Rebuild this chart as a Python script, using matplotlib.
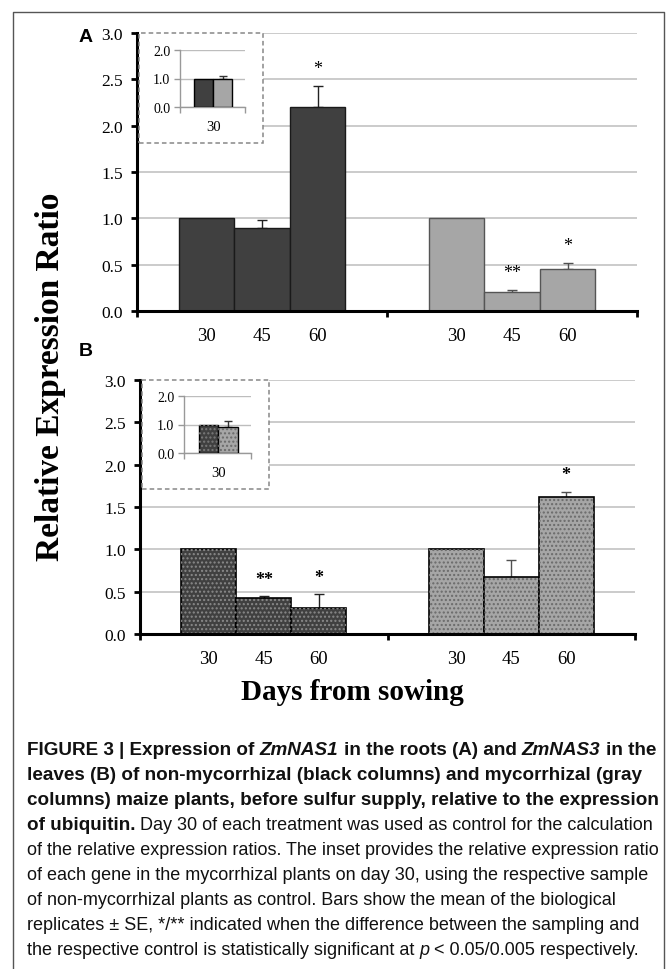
import matplotlib
matplotlib.use("Agg")
import matplotlib.pyplot as plt
from matplotlib import font_manager
from matplotlib.lines import Line2D
from matplotlib.patches import Rectangle
import numpy as np

# ---- data ----
days = ["30", "45", "60"]

# panel A: ZmNAS1, roots
a_nonmyc = [1.0, 0.90, 2.20]
a_nonmyc_err = [0.0, 0.08, 0.23]
a_myc = [1.0, 0.20, 0.45]
a_myc_err = [0.0, 0.03, 0.07]
a_stars_nonmyc = ["", "", "*"]
a_stars_myc = ["", "**", "*"]
a_inset = [1.0, 0.98]
a_inset_err = [0.0, 0.10]

# panel B: ZmNAS3, leaves
b_nonmyc = [1.0, 0.43, 0.31]
b_nonmyc_err = [0.0, 0.02, 0.16]
b_myc = [1.0, 0.67, 1.62]
b_myc_err = [0.0, 0.20, 0.06]
b_stars_nonmyc = ["", "**", "*"]
b_stars_myc = ["", "", "*"]
b_inset = [1.0, 0.90]
b_inset_err = [0.0, 0.22]

y_ticks = [0.0, 0.5, 1.0, 1.5, 2.0, 2.5, 3.0]
inset_ticks = [0.0, 1.0, 2.0]

DARK = "#404040"
LIGHT = "#a6a6a6"
GRID = "#bdbdbd"

W, H = 668, 970
fig = plt.figure(figsize=(W / 100, H / 100), dpi=100)

def box(x0, y0, x1, y1):
    # pixel box (top-left origin) -> figure fraction rect
    return [x0 / W, 1 - y1 / H, (x1 - x0) / W, (y1 - y0) / H]

def fx(x):
    return x / W

def fy(y):
    return 1 - y / H

serif = "Liberation Serif"
names = {f.name for f in font_manager.fontManager.ttflist}
cap_font = "Liberation Sans Narrow" if "Liberation Sans Narrow" in names else "Liberation Sans"

BW = 0.222


def main_panel(rect, nonmyc, nerr, myc, merr, st_n, st_m, dotted, star_bold):
    ax = fig.add_axes(rect)
    ax.set_xlim(0, 2)
    ax.set_ylim(0, 3.0)
    x1 = 0.5 + (np.arange(3) - 1) * BW
    x2 = x1 + 1
    if dotted:
        ax.bar(x1, nonmyc, BW, color=DARK, edgecolor="black", lw=1.2, zorder=3)
        ax.bar(x1, nonmyc, BW, color="none", edgecolor="#8a8a8a", hatch="....", lw=0, zorder=3)
        ax.bar(x2, myc, BW, color=LIGHT, edgecolor="black", lw=1.2, zorder=3)
        ax.bar(x2, myc, BW, color="none", edgecolor="#6a6a6a", hatch="....", lw=0, zorder=3)
    else:
        ax.bar(x1, nonmyc, BW, color=DARK, edgecolor="#1a1a1a", lw=1.0, zorder=3)
        ax.bar(x2, myc, BW, color=LIGHT, edgecolor="#555555", lw=1.0, zorder=3)
    for xs, vals, errs, col in [(x1, nonmyc, nerr, "#222222"), (x2, myc, merr, "#505050")]:
        for x, v, e in zip(xs, vals, errs):
            if e > 0:
                ax.errorbar(x, v, yerr=[[0], [e]], fmt="none", ecolor=col, elinewidth=1.0,
                            capsize=3.5, capthick=1.0, zorder=2)
    wt = "bold" if star_bold else "normal"
    for xs, vals, errs, stars in [(x1, nonmyc, nerr, st_n), (x2, myc, merr, st_m)]:
        for x, v, e, s in zip(xs, vals, errs, stars):
            if s:
                ax.annotate(s, (x, v + e), xytext=(0, 6), textcoords="offset points",
                            ha="center", va="bottom", fontsize=13, family=serif,
                            fontweight=wt, zorder=5)
    ax.set_yticks(y_ticks)
    ax.set_yticklabels([f"{t:.1f}" for t in y_ticks], family=serif, fontsize=12.5)
    ax.set_xticks([0, 1, 2])
    ax.set_xticklabels([])
    ax.tick_params(axis="both", direction="out", length=4, width=2, color="black", pad=6)
    for t in ax.get_yticklines():
        t.set_clip_on(False)
    ax.grid(axis="y", color=GRID, lw=1.1, zorder=0)
    ax.set_axisbelow(True)
    for s in ["top", "right"]:
        ax.spines[s].set_visible(False)
    for s in ["left", "bottom"]:
        ax.spines[s].set_linewidth(2.2)
        ax.spines[s].set_zorder(4)
    # day labels under each bar
    for xs in (x1, x2):
        for x, d in zip(xs, days):
            ax.annotate(d, (x, 0), xytext=(0, -18), textcoords="offset points",
                        ha="center", va="center", fontsize=13.5, family=serif,
                        annotation_clip=False)
    return ax


def inset(frame, rect, vals, errs, dotted):
    fig.add_artist(Rectangle((fx(frame[0]), fy(frame[3])), (frame[2] - frame[0]) / W,
                             (frame[3] - frame[1]) / H, transform=fig.transFigure,
                             facecolor="white", edgecolor="#888888", lw=1.1, ls=(0, (3, 2)),
                             zorder=10))
    ax = fig.add_axes(rect)
    ax.set_zorder(11)
    ax.patch.set_alpha(0)
    ax.set_xlim(0, 1)
    ax.set_ylim(0, 2.0)
    bw = 0.29
    xs = [0.51 - bw / 2, 0.51 + bw / 2]
    cols = [DARK, LIGHT]
    for x, v, c in zip(xs, vals, cols):
        ax.bar(x, v, bw, color=c, edgecolor="black", lw=1.0, zorder=3)
        if dotted:
            ax.bar(x, v, bw, color="none", edgecolor="#7a7a7a" if c == DARK else "#6a6a6a",
                   hatch="....", lw=0, zorder=3)
    for x, v, e in zip(xs, vals, errs):
        if e > 0:
            ax.errorbar(x, v, yerr=[[0], [e]], fmt="none", ecolor="#333333",
                        elinewidth=1.0, capsize=3, capthick=1.0, zorder=2)
    ax.set_yticks(inset_ticks)
    ax.set_yticklabels([f"{t:.1f}" for t in inset_ticks], family=serif, fontsize=10)
    ax.set_xticks([0, 1])
    ax.set_xticklabels([])
    ax.tick_params(axis="both", direction="out", length=4, width=1, color="#999999", pad=3)
    ax.grid(axis="y", color=GRID, lw=1.0, zorder=0)
    ax.set_axisbelow(True)
    for s in ["top", "right"]:
        ax.spines[s].set_visible(False)
    for s in ["left", "bottom"]:
        ax.spines[s].set_color("#999999")
        ax.spines[s].set_linewidth(1.0)
    ax.annotate(days[0], (0.51, 0), xytext=(0, -14), textcoords="offset points",
                ha="center", va="center", fontsize=10.5, family=serif, annotation_clip=False)


main_panel(box(137, 34, 637, 312), a_nonmyc, a_nonmyc_err, a_myc, a_myc_err,
           a_stars_nonmyc, a_stars_myc, dotted=False, star_bold=False)
inset((139, 34, 263, 144), box(180, 51, 245, 108), a_inset, a_inset_err, dotted=False)

main_panel(box(140, 381, 635, 635), b_nonmyc, b_nonmyc_err, b_myc, b_myc_err,
           b_stars_nonmyc, b_stars_myc, dotted=True, star_bold=True)
inset((142, 381, 269, 490), box(184, 397, 251, 454), b_inset, b_inset_err, dotted=True)

# panel letters and shared axis titles
fig.text(fx(86), fy(37), "A", ha="center", va="center", fontsize=14,
         fontweight="bold", family="Liberation Sans")
fig.text(fx(86), fy(352), "B", ha="center", va="center", fontsize=14,
         fontweight="bold", family="Liberation Sans")
fig.text(fx(51), fy(377), "Relative Expression Ratio", rotation=90, ha="center",
         va="center", fontsize=24, fontweight="bold", family=serif)
fig.text(fx(352), fy(693), "Days from sowing", ha="center", va="center",
         fontsize=21, fontweight="bold", family=serif)

# outer frame
fig.add_artist(Line2D([fx(13), fx(13), fx(664), fx(664)], [fy(970), fy(13), fy(13), fy(970)],
                      transform=fig.transFigure, color="#555555", lw=1.0))

# ---- caption ----
R, BD, BI, IT = ("normal", "normal"), ("bold", "normal"), ("bold", "italic"), ("normal", "italic")
caption = [
    [("FIGURE 3 | Expression of ", BD), ("ZmNAS1", BI), (" in the roots (A) and ", BD),
     ("ZmNAS3", BI), (" in the", BD)],
    [("leaves (B) of non-mycorrhizal (black columns) and mycorrhizal (gray", BD)],
    [("columns) maize plants, before sulfur supply, relative to the expression", BD)],
    [("of ubiquitin.", BD), (" Day 30 of each treatment was used as control for the calculation", R)],
    [("of the relative expression ratios. The inset provides the relative expression ratio", R)],
    [("of each gene in the mycorrhizal plants on day 30, using the respective sample", R)],
    [("of non-mycorrhizal plants as control. Bars show the mean of the biological", R)],
    [("replicates \u00b1 SE, */** indicated when the difference between the sampling and", R)],
    [("the respective control is statistically significant at ", R), ("p", IT),
     (" < 0.05/0.005 respectively.", R)],
]

renderer = fig.canvas.get_renderer()


def width(s, size, style):
    # advance width in pixels, bars keep leading/trailing spaces honest
    t1 = fig.text(0, 0, "|" + s + "|", fontsize=size, fontweight=style[0],
                  fontstyle=style[1], family=cap_font)
    t2 = fig.text(0, 0, "||", fontsize=size, fontweight=style[0],
                  fontstyle=style[1], family=cap_font)
    w = t1.get_window_extent(renderer).width - t2.get_window_extent(renderer).width
    t1.remove()
    t2.remove()
    return w


reg_size = 12 * 632 / width(caption[4][0][0], 12, R)
bold_size = 12 * 626 / width(caption[2][0][0], 12, BD)

x0 = 27
for i, line in enumerate(caption):
    x = x0
    base = 755 + 25 * i
    for text, style in line:
        size = bold_size if style[0] == "bold" else reg_size
        lead = len(text) - len(text.lstrip(" "))
        core = text.strip(" ")
        trail = len(text) - len(text.rstrip(" "))
        sp = width(" ", size, style)
        x += lead * sp
        fig.text(fx(x), fy(base), core, ha="left", va="baseline", fontsize=size,
                 fontweight=style[0], fontstyle=style[1], family=cap_font, color="#111111")
        x += width(core, size, style) + trail * sp

fig.savefig("out.png", dpi=100)
